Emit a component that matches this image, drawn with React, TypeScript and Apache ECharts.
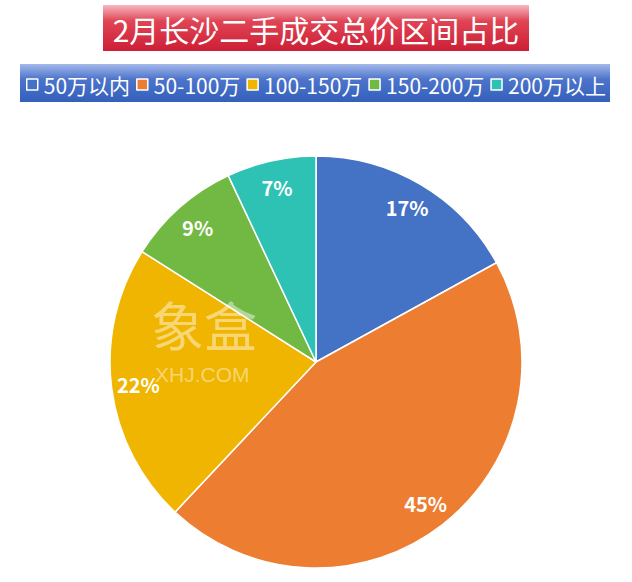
import React, { useEffect, useRef } from "react";
import * as echarts from "echarts";

const titleText = "2月长沙二手成交总价区间占比";
const categories = ["50万以内", "50-100万", "100-150万", "150-200万", "200万以上"];
const shares = [17, 45, 22, 9, 7];
const colors = ["#4472C4", "#ED7D31", "#F0B500", "#72B944", "#2EC2B4"];

const FONT = '"Noto Sans CJK SC", "Noto Sans", sans-serif';

export default function App() {
  const ref = useRef<HTMLDivElement>(null);
  useEffect(() => {
    const chart = echarts.init(ref.current!, undefined, { renderer: "svg" });
    const data = categories.map((name, i) => ({ name, value: shares[i] }));
    const center = [316, 362];
    chart.setOption({
      animation: false,
      backgroundColor: "#ffffff",
      color: colors,
      title: {
        text: titleText,
        left: "center",
        top: 9,
        textStyle: { color: "#ffffff", fontSize: 30, fontWeight: "normal", fontFamily: FONT },
      },
      legend: {
        data: categories,
        left: "center",
        top: 69,
        icon: "rect",
        itemWidth: 11,
        itemHeight: 11,
        itemGap: 6,
        itemStyle: { borderColor: "#ffffff", borderWidth: 1.5 },
        textStyle: { color: "#ffffff", fontSize: 21, fontFamily: FONT, padding: [0, 0, 0, 1] },
      },
      graphic: [
        {
          type: "rect",
          z: -1,
          shape: { x: 103, y: 5, width: 426, height: 46 },
          style: {
            fill: new echarts.graphic.LinearGradient(0, 0, 0, 1, [
              { offset: 0, color: "#f6b8bf" },
              { offset: 0.35, color: "#e04455" },
              { offset: 1, color: "#cc1f35" },
            ]),
          },
        },
        {
          type: "rect",
          z: -1,
          shape: { x: 20, y: 64, width: 590, height: 38 },
          style: {
            fill: new echarts.graphic.LinearGradient(0, 0, 0, 1, [
              { offset: 0, color: "#a4b9ea" },
              { offset: 0.4, color: "#4d74cb" },
              { offset: 1, color: "#3360bb" },
            ]),
          },
        },
        {
          type: "text",
          z: 100,
          left: 151,
          top: 297,
          style: { text: "象盒", fill: "rgba(255,255,255,0.45)", font: `53px ${FONT}` },
        },
        {
          type: "text",
          z: 100,
          left: 155,
          top: 364,
          style: { text: "XHJ.COM", fill: "rgba(255,255,255,0.45)", font: `21px "Liberation Sans", Arial, sans-serif` },
        },
      ],
      series: [
        {
          type: "pie",
          center,
          radius: [0, 206],
          startAngle: 90,
          clockwise: true,
          data,
          label: { show: false },
          labelLine: { show: false },
          itemStyle: { borderColor: "#ffffff", borderWidth: 1.5 },
          emphasis: { disabled: true },
        },
        {
          type: "pie",
          center,
          radius: [146, 206],
          startAngle: 90,
          clockwise: true,
          silent: true,
          data,
          itemStyle: { color: "rgba(0,0,0,0)" },
          label: {
            show: true,
            position: "inside",
            formatter: "{c}%",
            color: "#ffffff",
            fontSize: 20,
            fontWeight: "bold",
            fontFamily: FONT,
          },
          labelLine: { show: false },
          emphasis: { disabled: true },
        },
      ],
    });
    return () => chart.dispose();
  }, []);
  return (
    <div
      ref={ref}
      style={{ position: "fixed", left: 0, top: 0, width: 632, height: 582 }}
    />
  );
}
